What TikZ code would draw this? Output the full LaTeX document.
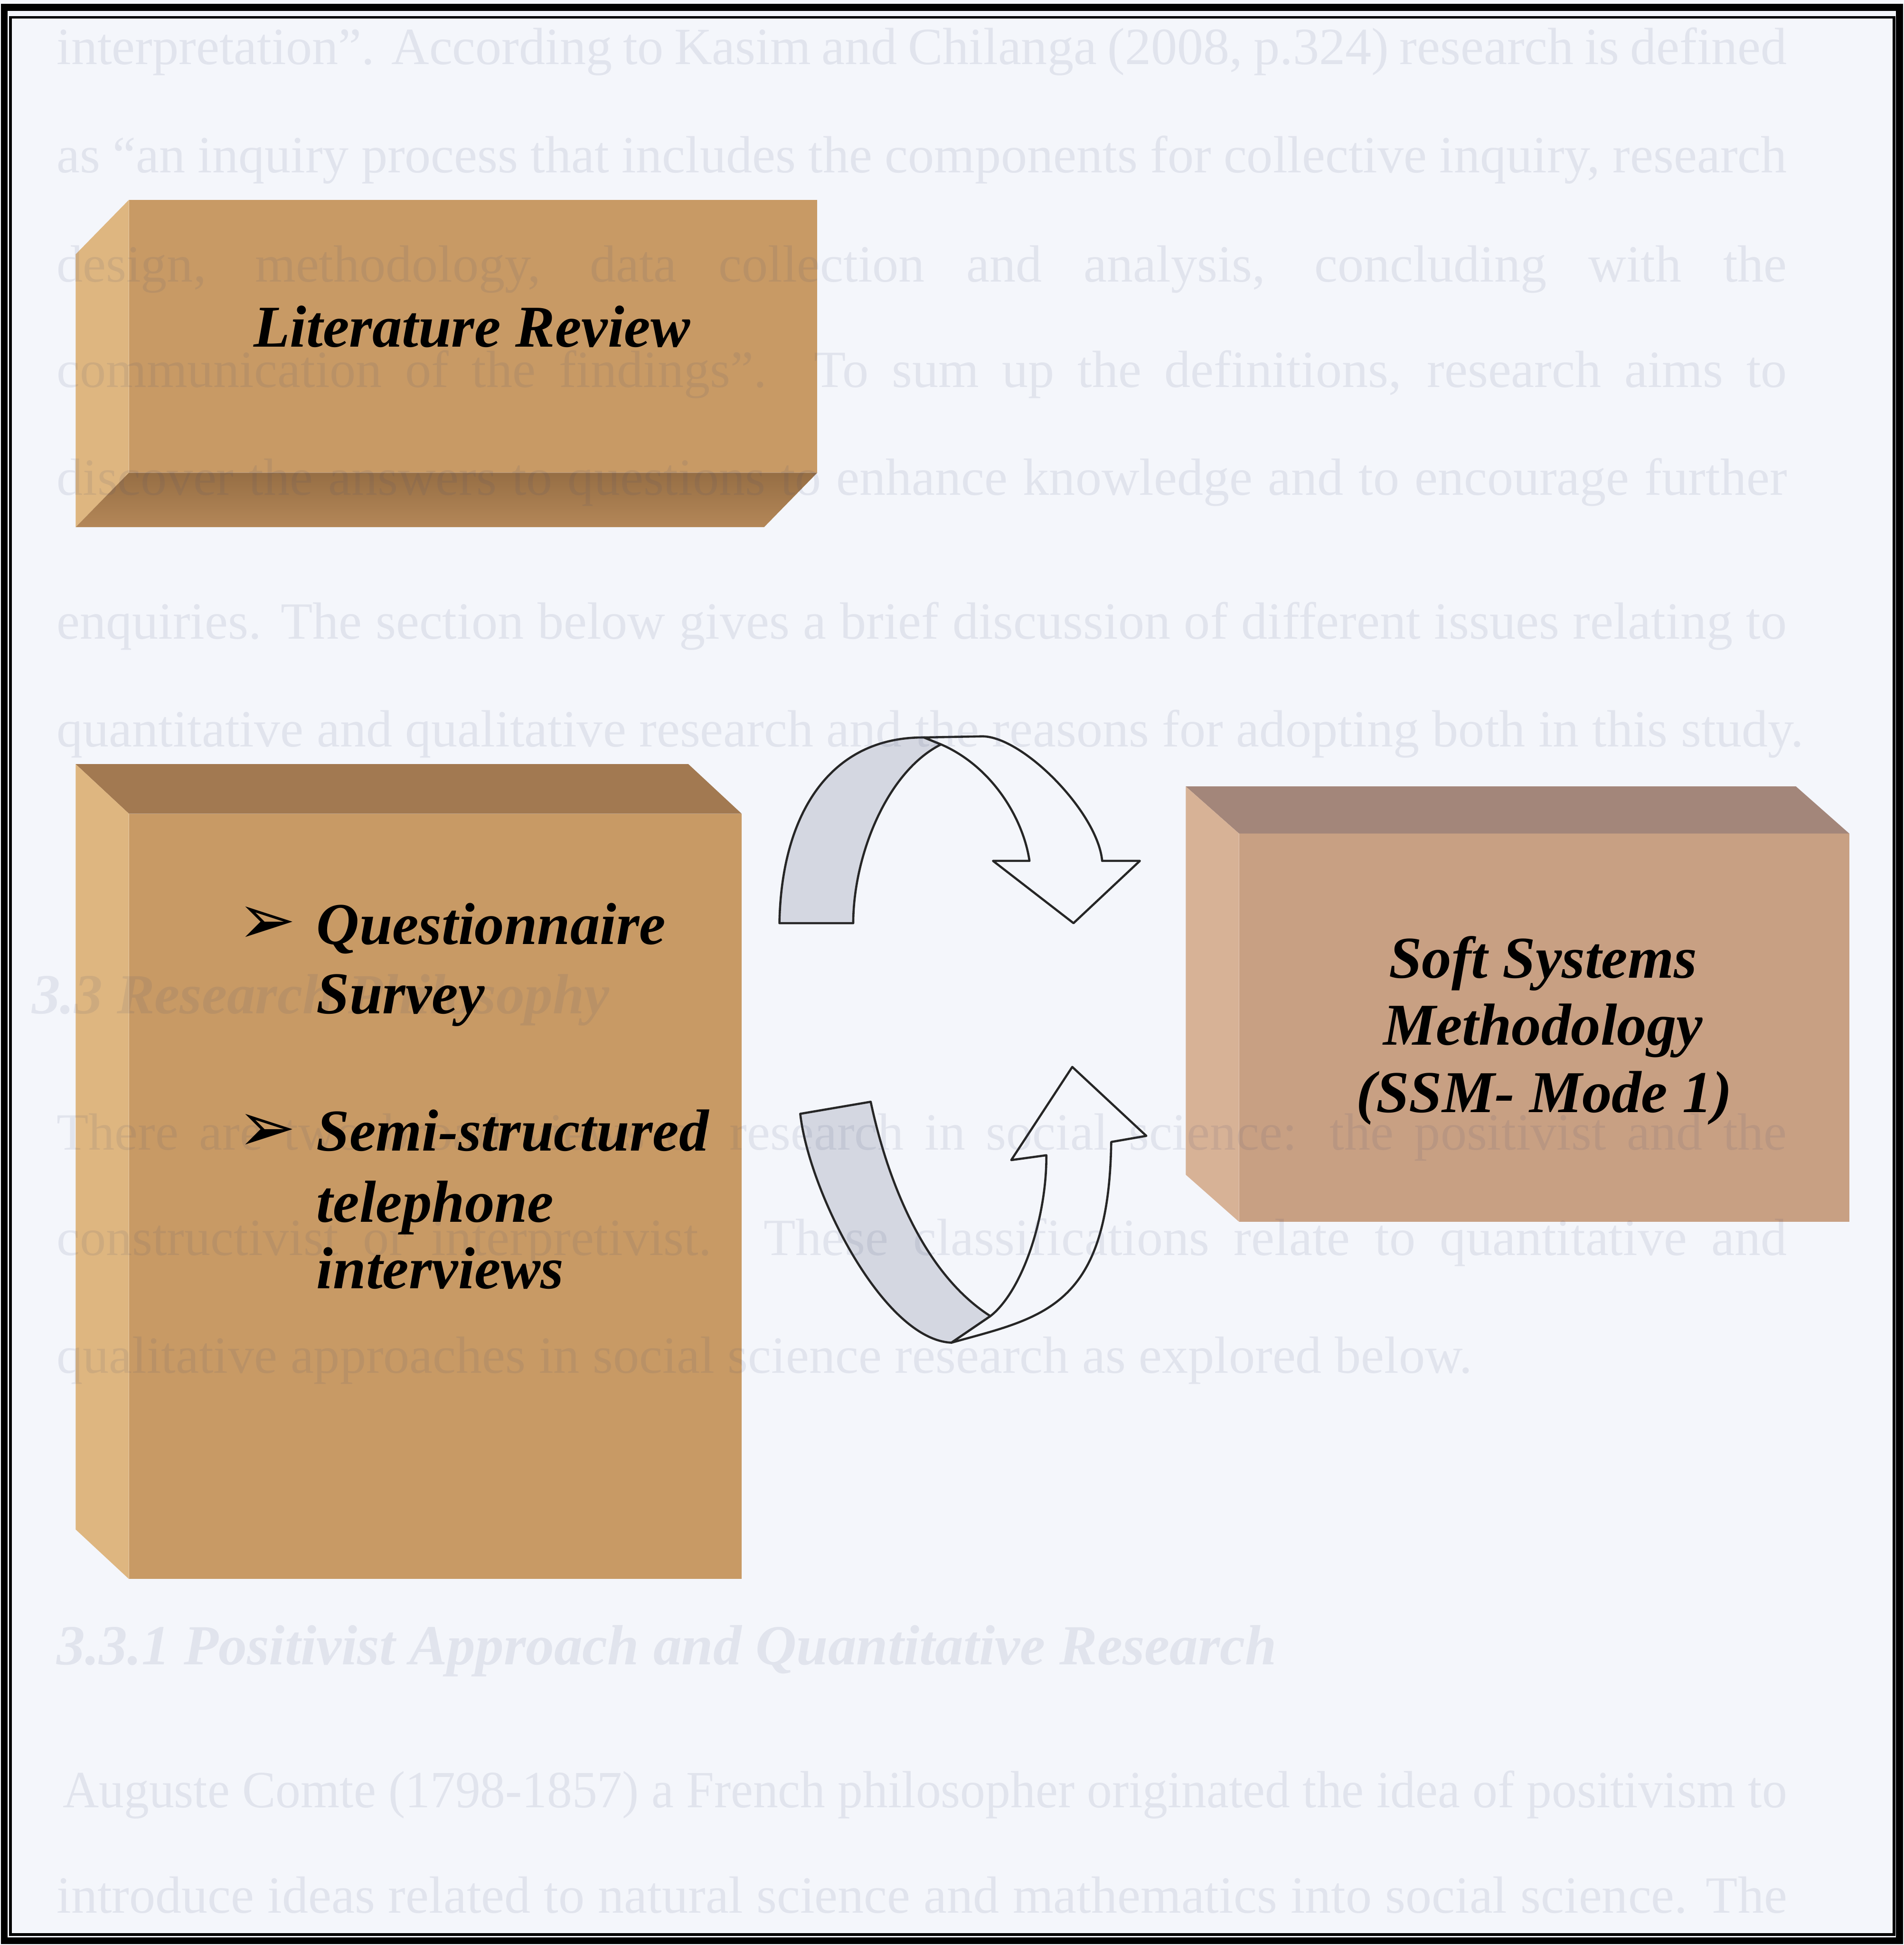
\documentclass[tikz,border=0pt]{standalone}
\usepackage{fontspec}
\usepackage{graphicx}
\setmainfont{Liberation Serif}
\newfontfamily\dingfont{DejaVu Sans}
\usetikzlibrary{calc}
\definecolor{pagebg}{RGB}{244,246,251}
\definecolor{tanfront}{RGB}{200,154,101}
\definecolor{tanside}{RGB}{222,182,128}
\definecolor{tandarkA}{RGB}{150,110,68}
\definecolor{tandarkB}{RGB}{180,135,88}
\definecolor{tantop}{RGB}{162,121,81}
\definecolor{rosefront}{RGB}{200,160,131}
\definecolor{roseside}{RGB}{215,178,150}
\definecolor{rosetop}{RGB}{163,134,122}
\definecolor{ribbongray}{RGB}{212,215,225}
\definecolor{bleedc}{RGB}{60,70,115}
\begin{document}
\begin{tikzpicture}[x=0.1mm,y=-0.1mm,
  frontface/.style={rectangle, inner sep=0pt, outer sep=0pt, draw=none},
  boxlabel/.style={font=\fontsize{13.6}{16}\selectfont\bfseries\itshape, inner sep=0pt, anchor=base},
  listlabel/.style={boxlabel, anchor=base west},
  bulletmark/.style={font=\dingfont\fontsize{16}{18}\selectfont, inner sep=0pt, anchor=center},
  ghost/.style={font=\fontsize{12}{14}\selectfont, text=bleedc, text opacity=0.1, inner sep=0pt, anchor=base west},
  ghosthead/.style={ghost, font=\fontsize{13}{15}\selectfont\bfseries\itshape},
  backribbon/.style={draw=black!85, fill=ribbongray, line width=0.5pt, line join=round},
  frontribbon/.style={draw=black!85, fill=pagebg, line width=0.5pt, line join=round},
]
\useasboundingbox (0,0) rectangle (1535,1568);
\fill[pagebg] (0,0) rectangle (1535,1568);

% ---- block 1: literature review (seen from below left)
\node[frontface, minimum width=55.5mm, minimum height=22mm, fill=tanfront] (lit) at (381.5,271) {};
\fill[tanside] (lit.north west) -- ++(-43,44) -- ($(lit.south west)+(-43,44)$) -- (lit.south west) -- cycle;
\shade[top color=tandarkA, bottom color=tandarkB] (lit.south west) -- (lit.south east) -- ++(-43,44) -- ($(lit.south west)+(-43,44)$) -- cycle;

% ---- block 2: data collection methods (seen from above left)
\node[frontface, minimum width=49.4mm, minimum height=61.7mm, fill=tanfront] (meth) at (351,964.5) {};
\fill[tantop] (meth.north west) -- (meth.north east) -- ++(-43,-40) -- ($(meth.north west)+(-43,-40)$) -- cycle;
\fill[tanside] (meth.north west) -- ++(-43,-40) -- ($(meth.south west)+(-43,-40)$) -- (meth.south west) -- cycle;

% ---- block 3: soft systems methodology
\node[frontface, minimum width=49.2mm, minimum height=31.3mm, fill=rosefront] (ssm) at (1245,828.5) {};
\fill[rosetop] (ssm.north west) -- (ssm.north east) -- ++(-43,-38) -- ($(ssm.north west)+(-43,-38)$) -- cycle;
\fill[roseside] (ssm.north west) -- ++(-43,-38) -- ($(ssm.south west)+(-43,-38)$) -- (ssm.south west) -- cycle;

% ---- upper curved ribbon arrow
\draw[backribbon] (628.4,744.2) .. controls (630,655) and (670,594) .. (745,594.5)
  -- (758.7,600.1) .. controls (715,622) and (688,690) .. (687.9,744.2) -- cycle;
\draw[frontribbon] (745,594.5) -- (792.2,593.6) .. controls (825,594) and (885,655) .. (888.6,694)
  -- (919,694) -- (865.5,744.2) -- (800.6,694) -- (830,694)
  .. controls (825,660) and (800,618) .. (758.7,600.1) -- cycle;

% ---- lower curved ribbon arrow
\draw[backribbon] (645.2,897.9) -- (702,888.2) .. controls (714,945) and (742,1025) .. (798.5,1061)
  -- (767.1,1082.4) .. controls (712,1080) and (652,960) .. cycle;
\draw[frontribbon] (767.1,1082.4) .. controls (840,1062) and (894,1055) .. (895.9,920.6)
  -- (924.2,915.7) -- (864.5,860.1) -- (815.3,935.2) -- (843.6,931.3)
  .. controls (844,980) and (825,1040) .. (798.5,1061) -- cycle;

% ---- text showing through the page
\node[ghost] (g1) at (45,52) {\makebox[139.5mm][s]{interpretation”.  According to Kasim and Chilanga (2008, p.324) research is defined}};
\node[ghost] (g2) at (45,139) {\makebox[139.5mm][s]{as “an inquiry process that includes the components for collective inquiry, research}};
\node[ghost] (g3) at (45,227) {\makebox[139.5mm][s]{design, methodology, data collection and analysis, concluding with the}};
\node[ghost] (g4) at (45,312) {\makebox[139.5mm][s]{communication of the findings”.  To sum up the definitions, research aims to}};
\node[ghost] (g5) at (45,399) {\makebox[139.5mm][s]{discover the answers to questions to enhance knowledge and to encourage further}};
\node[ghost] (g6) at (45,515) {\makebox[139.5mm][s]{enquiries.  The section below gives a brief discussion of different issues relating to}};
\node[ghost] (g7) at (45,602) {quantitative and qualitative research and the reasons for adopting both in this study.};
\node[ghosthead] (h1) at (25,817) {3.3 Research Philosophy};
\node[ghost] (g8) at (45,927) {\makebox[139.5mm][s]{There are two broad views of research in social science: the positivist and the}};
\node[ghost] (g9) at (45,1012) {\makebox[139.5mm][s]{constructivist or interpretivist.  These classifications relate to quantitative and}};
\node[ghost] (g10) at (45,1107) {qualitative approaches in social science research as explored below.};
\node[ghosthead] (h2) at (45,1342) {3.3.1 Positivist Approach and Quantitative Research};
\node[ghost] (g11) at (50,1457) {\resizebox{139mm}{\height}{Auguste Comte (1798-1857) a French philosopher originated the idea of positivism to}};
\node[ghost] (g12) at (45,1542) {\makebox[139.5mm][s]{introduce ideas related to natural science and mathematics into social science.  The}};

% ---- block labels
\node[boxlabel] (litlabel) at (380.5,279.5) {Literature Review};
\node[boxlabel] (ssm1) at (1244,788.4) {Soft Systems};
\node[boxlabel] (ssm2) at (1244,842.4) {Methodology};
\node[boxlabel] (ssm3) at (1245,896.8) {(SSM- Mode 1)};
\node[bulletmark] (b1) at (215,746) {➢};
\node[bulletmark] (b2) at (215,913) {➢};
\node[listlabel] (q1) at (254.6,761.3) {Questionnaire};
\node[listlabel] (q2) at (254.6,817.2) {Survey};
\node[listlabel] (s1) at (254.6,927.8) {Semi-structured};
\node[listlabel] (s2) at (254.6,985) {telephone};
\node[listlabel] (s3) at (254.6,1038.8) {interviews};

% ---- double frame
\draw[line width=1.6pt] (3.5,6) rectangle (1531.5,1564.5);
\draw[line width=0.6pt] (8.5,14) rectangle (1527,1559.5);
\end{tikzpicture}
\end{document}
